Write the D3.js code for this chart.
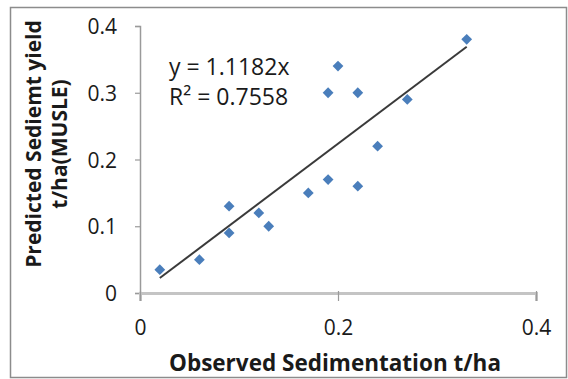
<!DOCTYPE html>
<html>
<head>
<meta charset="utf-8">
<script src="https://cdn.jsdelivr.net/npm/d3@7"></script>
<style>
  html, body { margin: 0; padding: 0; background: #ffffff; }
  svg { display: block; }
  text { font-family: "Open Sans", "Liberation Sans", sans-serif; fill: #1a1a1a; }
</style>
</head>
<body>
<svg id="chart" width="568" height="379"></svg>
<script>
// ---- data ----
const observed  = [0.02, 0.06, 0.09, 0.09, 0.12, 0.13, 0.17, 0.19, 0.22, 0.24, 0.27, 0.19, 0.20, 0.22, 0.33];
const predicted = [0.035, 0.05, 0.13, 0.09, 0.12, 0.10, 0.15, 0.17, 0.16, 0.22, 0.29, 0.30, 0.34, 0.30, 0.38];
const xTicks = [0, 0.2, 0.4];
const yTicks = [0, 0.1, 0.2, 0.3, 0.4];
const xTickLabels = ["0", "0.2", "0.4"];
const yTickLabels = ["0", "0.1", "0.2", "0.3", "0.4"];
const slope = 1.1182;
const equationText = "y = 1.1182x";
const r2Text = "R² = 0.7558";
const xTitle = "Observed Sedimentation t/ha";
const yTitleLines = ["Predicted Sediemt yield", "t/ha(MUSLE)"];

const svg = d3.select("#chart");
const W = 568, H = 379;

// outer frame
svg.append("rect").attr("x", 10.5).attr("y", 7.5).attr("width", W - 12).attr("height", H - 9)
  .attr("fill", "#fff").attr("stroke", "#8c8c8c").attr("stroke-width", 1.5);

const x = d3.scaleLinear().domain([0, 0.4]).range([140, 536]);
const y = d3.scaleLinear().domain([0, 0.4]).range([293, 26]);

// y axis
const yAxis = d3.axisLeft(y).tickValues(yTicks).tickSize(5).tickFormat((d, i) => yTickLabels[i]);
const gy = svg.append("g").attr("transform", "translate(140,0)").call(yAxis);
gy.select(".domain").attr("stroke", "#9a9a9a").attr("stroke-width", 1.5);
gy.selectAll(".tick line").attr("stroke", "#9a9a9a").attr("stroke-width", 1.2);
gy.selectAll(".tick text").attr("x", -23).attr("dy", "0.36em")
  .style("font-size", "21px").attr("fill", "#1a1a1a");

// x axis
const xAxis = d3.axisBottom(x).tickValues(xTicks).tickSize(8).tickFormat((d, i) => xTickLabels[i]);
const gx = svg.append("g").attr("transform", "translate(0,293)").call(xAxis);
gx.select(".domain").attr("stroke", "#c4c4c4").attr("stroke-width", 3);
gx.selectAll(".tick line").attr("stroke", "#9a9a9a").attr("stroke-width", 1.2).attr("y1", -2);
gx.selectAll(".tick text").attr("y", 27).attr("dy", "0.71em")
  .style("font-size", "21px").attr("fill", "#1a1a1a");

// trendline
const xMin = d3.min(observed), xMax = d3.max(observed);
const line = d3.line().x(d => x(d[0])).y(d => y(d[1]));
svg.append("path").datum([[xMin, slope * xMin], [xMax, slope * xMax]])
  .attr("d", line).attr("stroke", "#3a3a3a").attr("stroke-width", 2).attr("fill", "none");

// points (diamonds)
const pts = observed.map((v, i) => [v, predicted[i]]);
const diamond = d3.symbol().type(d3.symbolSquare).size(58);
svg.append("g").selectAll("path").data(pts).join("path")
  .attr("d", diamond)
  .attr("transform", d => `translate(${x(d[0])},${y(d[1])}) rotate(45)`)
  .attr("fill", "#4a7ebb");

// equation
svg.append("text").attr("x", 169).attr("y", 75).style("font-size", "23px").text(equationText);
svg.append("text").attr("x", 169).attr("y", 105).style("font-size", "23px").text(r2Text);

// axis titles
svg.append("text").attr("x", 335).attr("y", 371).attr("text-anchor", "middle")
  .style("font-size", "22.5px").style("font-weight", "bold").text(xTitle);

yTitleLines.forEach((t, i) => {
  svg.append("text")
    .attr("transform", `translate(${41 + i * 26},144) rotate(-90)`)
    .attr("text-anchor", "middle")
    .style("font-size", "21px").style("font-weight", "bold").text(t);
});
</script>
</body>
</html>
